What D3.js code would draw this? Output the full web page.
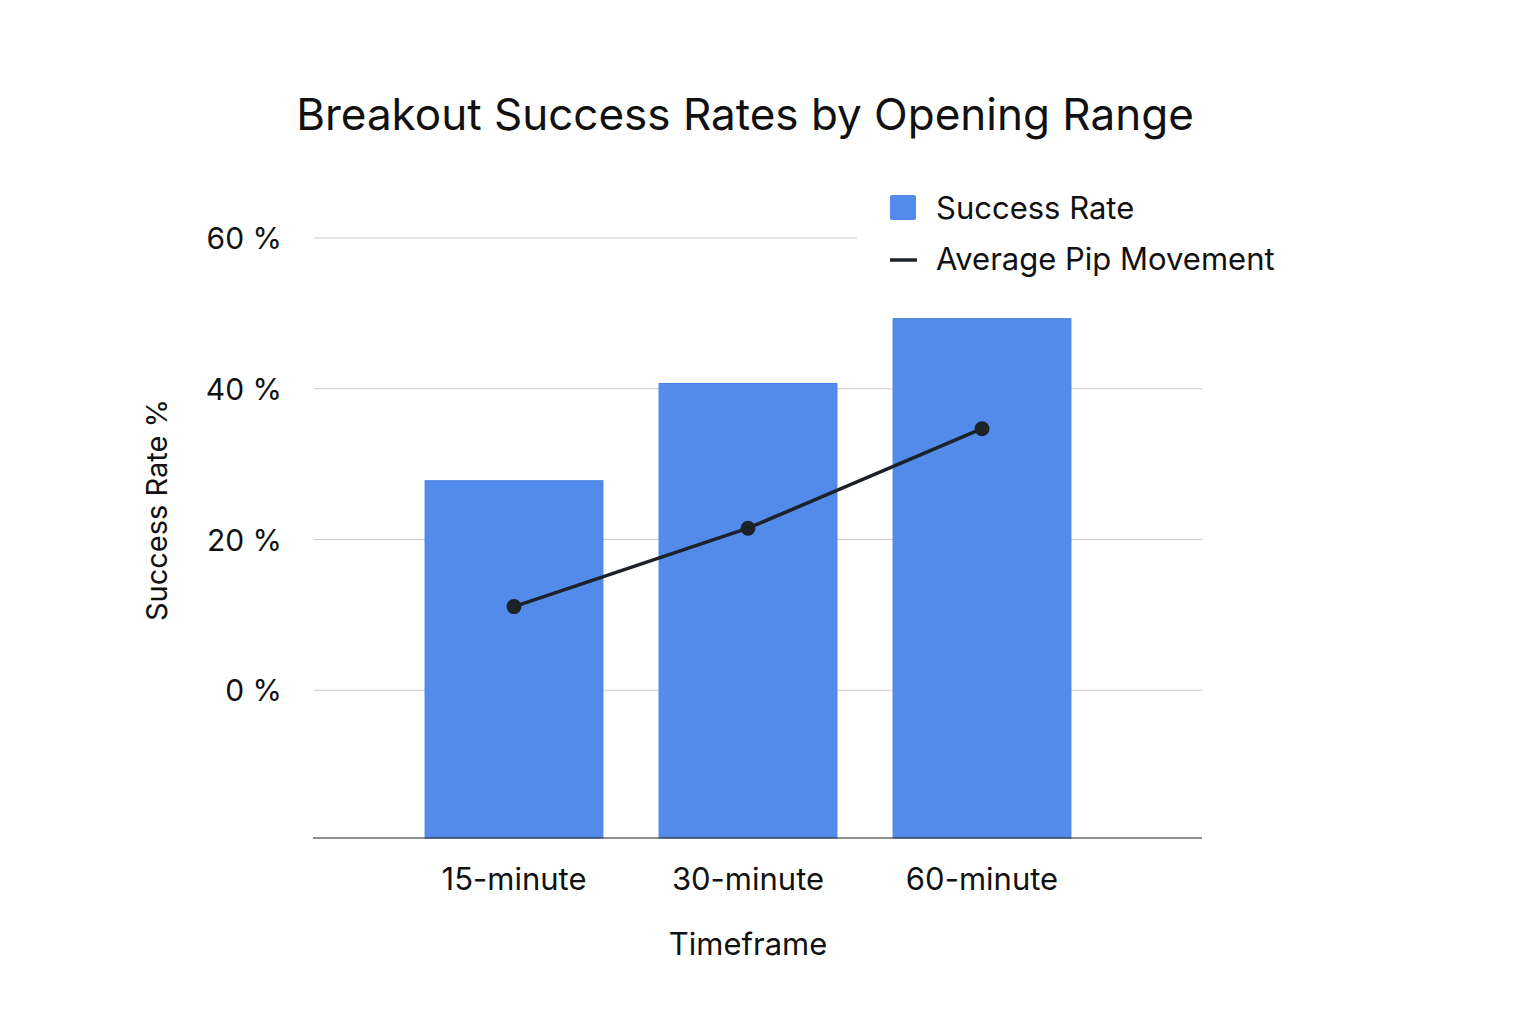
<!DOCTYPE html>
<html><head><meta charset="utf-8">
<script src="https://cdn.jsdelivr.net/npm/d3@7/dist/d3.min.js"></script>
<style>body{margin:0;background:#fff}text{font-family:Inter,"Noto Sans",sans-serif;fill:#111}</style>
</head><body><svg id="c" width="1536" height="1024"></svg>
<script>
const categories = ["15-minute","30-minute","60-minute"];
const successRate = [27.8, 40.7, 49.3];
const avgPip = [11.1, 21.5, 34.7];
const yTicks = [0, 20, 40, 60];
const svg = d3.select("#c");
svg.append("rect").attr("width",1536).attr("height",1024).attr("fill","#fff");
const y = d3.scaleLinear().domain([-19.6, 60]).range([838, 238]);
const x = d3.scaleBand().domain(categories).range([397,1099]).paddingInner(0.24).paddingOuter(0.12);
svg.append("text").attr("x",745).attr("y",130).attr("text-anchor","middle").attr("font-size",44).text("Breakout Success Rates by Opening Range");
yTicks.forEach(t=>{
  svg.append("line").attr("x1",314).attr("x2",t===60?857:1202).attr("y1",y(t)).attr("y2",y(t)).attr("stroke","#ccc").attr("stroke-width",1.2);
  svg.append("text").attr("x",282).attr("y",y(t)+11).attr("text-anchor","end").attr("font-size",30).text(t+" %");
});
svg.selectAll(".bar").data(categories).enter().append("rect")
  .attr("x",d=>x(d)).attr("width",x.bandwidth())
  .attr("y",(d,i)=>y(successRate[i])).attr("height",(d,i)=>y(-19.6)-y(successRate[i]))
  .attr("fill","#528bea").attr("stroke","#4a80e0").attr("stroke-width",1);
svg.append("line").attr("x1",313).attr("x2",1202).attr("y1",838).attr("y2",838).attr("stroke","#222").attr("stroke-width",1.2);
const line = d3.line().x((d,i)=>x(categories[i])+x.bandwidth()/2).y(d=>y(d));
svg.append("path").attr("d",line(avgPip)).attr("fill","none").attr("stroke","#1d2228").attr("stroke-width",3.5);
svg.selectAll(".pt").data(avgPip).enter().append("circle")
  .attr("cx",(d,i)=>x(categories[i])+x.bandwidth()/2).attr("cy",d=>y(d)).attr("r",7.5).attr("fill","#1d2228");
categories.forEach(c=>svg.append("text").attr("x",x(c)+x.bandwidth()/2).attr("y",890).attr("text-anchor","middle").attr("font-size",31).text(c));
svg.append("text").attr("x",748).attr("y",955).attr("text-anchor","middle").attr("font-size",31).text("Timeframe");
svg.append("text").attr("transform","translate(167,510) rotate(-90)").attr("text-anchor","middle").attr("font-size",29).text("Success Rate %");
svg.append("rect").attr("x",890).attr("y",195).attr("width",26).attr("height",25).attr("rx",2).attr("fill","#528bea");
svg.append("text").attr("x",936).attr("y",219).attr("font-size",31).text("Success Rate");
svg.append("line").attr("x1",890).attr("x2",917).attr("y1",260).attr("y2",260).attr("stroke","#1d2228").attr("stroke-width",3.5);
svg.append("text").attr("x",936).attr("y",270).attr("font-size",31).text("Average Pip Movement");
</script></body></html>
